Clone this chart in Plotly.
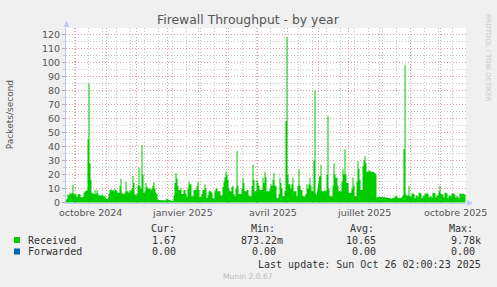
import plotly.graph_objects as go
import pandas as pd

# ---------------- data ----------------
start_date = "2024-09-21"
# daily "Received" packets/second, 2024-09-21 .. 2025-10-26
received = [
    2, 2.5, 6, 5, 7, 6, 7, 12.5, 6, 5.5,
    6, 4, 5.5, 6, 6, 4, 3.5, 4, 7, 8,
    8, 9, 45, 85, 28, 16, 7, 6.5, 6, 9,
    6, 9, 7, 5, 5, 5, 5.5, 5, 4.5, 4.5,
    3, 2.5, 3, 6, 9, 9.5, 8.5, 9, 8, 10,
    9, 8, 7, 7, 12, 17, 7, 6, 6, 7,
    15, 8, 8, 7, 9, 8, 10, 19, 14, 6,
    5, 6, 12, 25, 12, 10, 41, 20, 7, 8,
    14, 11, 10, 10, 10, 9, 10, 12, 14.5, 10,
    7, 6, 2, 1.8, 1.7, 1.6, 1.6, 1.7, 1.5, 1.5,
    2.2, 2.6, 2.4, 1.8, 1.6, 1.5, 1.0, 1.2, 5, 14,
    21, 17, 12, 9, 9, 10.5, 6, 6, 9, 9,
    6, 4, 10, 15, 13, 13, 4.5, 4.5, 9, 9,
    9, 12, 15, 9, 4, 4, 6, 9, 9, 13,
    10, 3.3, 5, 8, 8, 8, 7, 3, 3, 8,
    10, 10, 8, 8, 8, 5, 5, 11, 15, 18,
    22, 20, 16, 10, 8, 8, 11, 12, 6, 4.5,
    10, 37, 12, 6, 6, 6, 10, 17.6, 14, 8,
    8, 9, 9, 5, 4.5, 4.5, 12, 27, 16, 8,
    8, 16, 14, 12, 9, 9, 9, 17.6, 14, 22,
    18, 8, 8, 8, 10, 13, 12, 16, 21, 12,
    12, 3.3, 3.3, 6, 17.6, 14, 10, 4.5, 4.5, 8,
    58, 118, 20, 13, 13, 10, 13, 17.6, 8, 8,
    8, 4.5, 12, 23.6, 12, 9, 9, 4.5, 4.5, 4.5,
    6, 13, 10, 13, 17.6, 12, 8, 8, 30, 80,
    6, 4.5, None, None, 19, 27, 8, 8, 8, 9,
    8, 20, 62, 10, 4.5, 4.5, 4.5, 12, 28, 20,
    17.6, 17.6, 12, 8, 8, 8, 15, 23.6, 20, 38,
    20, 14, 14, 7, 7, 7, 10, 17.6, 12, 4.5,
    4.5, 15, 29.5, 24, 16, 9, 9, 26, 30, 33,
    28, 22, 22, 23, 22.5, 22, 22, 22, 21.5, 21,
    20, 3.5, 4, 4, 4, 4, 4, 3.8, 3.8, 3.8,
    3.8, 3.5, 3.3, 3.3, 3.3, 2.6, 2.8, 3.3, 3.3, 4.5,
    4.5, 4.5, 3.3, 3.3, 3.3, 3.3, 4, 5, 38, 98,
    6, 5, 5, 12, 4.5, 4, 6.4, 6.4, 6, 3,
    5, 5, 4, 7, 7, 6.5, 3, 4.5, 4.5, 6,
    6.4, 6.4, 6.4, 3.5, 4.5, 4.5, 3.5, 7, 7, 6.5,
    3.5, 5, 5, 8, 12, 6, 5.7, 5.7, 3.5, 7,
    7, 6.5, 3, 5, 5, 4.5, 6.4, 6.4, 6.4, 5.5,
    3.5, 4.5, 4.5, 3, 6.4, 6.4, 6, 6.4, 6, 5.5,
    1.67,
]

# visible window (half a day offset keeps the dotted grid pixel-crisp)
x_window = ["2024-09-21 12:00", "2025-10-26 12:00"]

month_label_dates = ["2024-10-16", "2025-01-16", "2025-04-16", "2025-07-16", "2025-10-16"]
month_labels = ["octobre 2024", "janvier 2025", "avril 2025", "juillet 2025", "octobre 2025"]

series_names = ["Received", "Forwarded"]
cur_vals = ["1.67", "0.00"]
min_vals = ["873.22m", "0.00"]
avg_vals = ["10.65", "0.00"]
max_vals = ["9.78k", "0.00"]
last_update = "Last update: Sun Oct 26 02:00:23 2025"

# ---------------- styles ----------------
GREEN = "#00cc00"
BLUE = "#0066b3"
MGRID = "#e49c9c"
GRID = "#c6c6c6"
AXIS = "#c4c8f8"
TXT = "#555555"
MONO = "DejaVu Sans Mono"
SANS = "DejaVu Sans"
DASH = "1px,2px"

W_FIG, H_FIG = 497, 287
L, T, W, H = 66, 28, 400, 175
Y_SHIFT = 0.5 / 1.4  # half a pixel in data units, keeps dotted grid crisp


def px(x):
    return (x - L) / W


def py(y):
    return 1 - (y - T) / H


dates = pd.date_range(start_date, periods=len(received), freq="D")

fig = go.Figure()
fig.add_trace(go.Scatter(
    x=dates, y=received, mode="lines", line=dict(width=0, shape="hv", color=GREEN),
    fill="tozeroy", fillcolor=GREEN, connectgaps=False, hoverinfo="skip",
    showlegend=False,
))

annotations = []
annotations.append(dict(x=px(248.5), y=py(20), xref="paper", yref="paper",
                        text="Firewall Throughput - by year", showarrow=False,
                        font=dict(family=SANS, size=12.4, color=TXT),
                        xanchor="center", yanchor="middle"))
annotations.append(dict(x=px(10.7), y=py(114.5), xref="paper", yref="paper",
                        text="Packets/second", showarrow=False, textangle=-90,
                        font=dict(family=SANS, size=9, color=TXT),
                        xanchor="center", yanchor="middle"))
annotations.append(dict(x=px(488), y=py(58), xref="paper", yref="paper",
                        text="RRDTOOL / TOBI OETIKER", showarrow=False, textangle=90,
                        font=dict(family=SANS, size=6.8, color="#c8c8c8"),
                        xanchor="center", yanchor="middle"))
for d, lab in zip(month_label_dates, month_labels):
    annotations.append(dict(x=d, y=py(212.7), xref="x", yref="paper", text=lab,
                            showarrow=False, font=dict(family=SANS, size=9.5, color=TXT),
                            xanchor="center", yanchor="middle"))
for lab, xl in zip(["Cur:", "Min:", "Avg:", "Max:"], [149, 249, 348, 447]):
    annotations.append(dict(x=px(xl), y=py(228.3), xref="paper", yref="paper", text=lab,
                            showarrow=False, font=dict(family=MONO, size=10, color="#333"),
                            xanchor="left", yanchor="middle"))
row_y = [240, 251.5]
col_right = [[178, 285, 378, 483], [178, 278, 378, 477]]
for i, name in enumerate(series_names):
    annotations.append(dict(x=px(26), y=py(row_y[i]), xref="paper", yref="paper", text=name,
                            showarrow=False, font=dict(family=MONO, size=10, color="#333"),
                            xanchor="left", yanchor="middle"))
    for val, xr in zip([cur_vals[i], min_vals[i], avg_vals[i], max_vals[i]], col_right[i]):
        annotations.append(dict(x=px(xr), y=py(row_y[i]), xref="paper", yref="paper", text=val,
                                showarrow=False, font=dict(family=MONO, size=10, color="#333"),
                                xanchor="right", yanchor="middle"))
annotations.append(dict(x=px(483), y=py(264), xref="paper", yref="paper", text=last_update,
                        showarrow=False, font=dict(family=MONO, size=10, color="#333"),
                        xanchor="right", yanchor="middle"))
annotations.append(dict(x=px(248), y=py(276), xref="paper", yref="paper", text="Munin 2.0.67",
                        showarrow=False, font=dict(family=SANS, size=7.6, color="#bbbbbb"),
                        xanchor="center", yanchor="middle"))

shapes = []
for i, col in enumerate([GREEN, BLUE]):
    shapes.append(dict(type="rect", xref="paper", yref="paper",
                       x0=px(14), x1=px(20), y0=py(row_y[i] + 3), y1=py(row_y[i] - 3),
                       fillcolor=col, line=dict(width=0)))
shapes.append(dict(type="path", xref="paper", yref="paper",
                   path=f"M {px(63.5)},{py(27)} L {px(69.5)},{py(27)} L {px(66.5)},{py(21)} Z",
                   fillcolor=AXIS, line=dict(width=0)))
shapes.append(dict(type="path", xref="paper", yref="paper",
                   path=f"M {px(467)},{py(200)} L {px(467)},{py(206)} L {px(473)},{py(203)} Z",
                   fillcolor=AXIS, line=dict(width=0)))

fig.update_layout(
    width=W_FIG, height=H_FIG,
    margin=dict(l=L, r=W_FIG - L - W, t=T, b=H_FIG - T - H, pad=0),
    paper_bgcolor="#f0f0f0", plot_bgcolor="#ffffff",
    showlegend=False,
    annotations=annotations, shapes=shapes,
    xaxis=dict(type="date", range=x_window, showgrid=True,
               gridcolor=MGRID, griddash=DASH, gridwidth=1,
               tick0="2024-10-01", dtick="M1", showticklabels=False, ticks="",
               showline=True, linecolor=AXIS, linewidth=1, zeroline=False,
               minor=dict(showgrid=True, gridcolor=GRID, griddash=DASH,
                          tick0="2024-09-30", dtick=14 * 86400000)),
    yaxis=dict(range=[-Y_SHIFT, 125 - Y_SHIFT], tick0=0, dtick=10, showgrid=True,
               gridcolor=MGRID, griddash=DASH, gridwidth=1,
               ticks="outside", ticklen=3, tickcolor="#aaaaaa",
               tickfont=dict(family=SANS, size=9.5, color=TXT),
               showline=True, linecolor=AXIS, linewidth=1, zeroline=False,
               minor=dict(showgrid=True, gridcolor=GRID, griddash=DASH, dtick=5,
                          ticks="outside", ticklen=2, tickcolor="#cccccc")),
)

fig.write_html("out.html")
